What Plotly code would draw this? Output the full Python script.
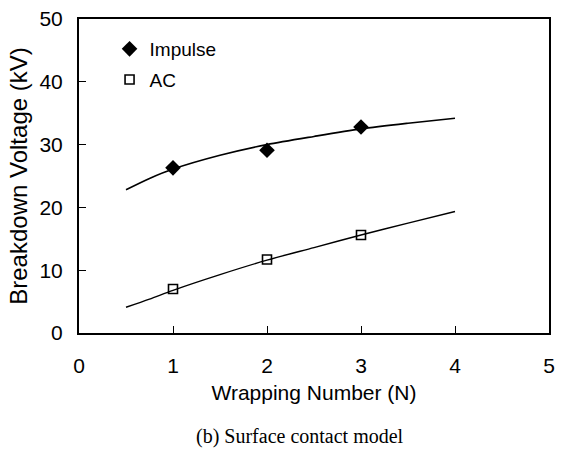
import plotly.graph_objects as go

# Measured data points
wrap_n = [1, 2, 3]
impulse_bdv = [26.3, 29.1, 32.8]
ac_bdv = [7.0, 11.7, 15.6]

# Fitted trend curves
fit_x = [0.5, 0.75, 1.0, 1.5, 2.0, 2.5, 3.0, 3.5, 4.0]
impulse_fit = [22.8, 24.6, 26.1, 28.3, 30.0, 31.3, 32.5, 33.4, 34.2]
ac_fit = [4.1, 5.4, 6.8, 9.3, 11.6, 13.6, 15.6, 17.5, 19.35]

x_ticks = [0, 1, 2, 3, 4, 5]
y_ticks = [0, 10, 20, 30, 40, 50]

font_sans = "Liberation Sans, Arial, sans-serif"

fig = go.Figure()
fig.add_trace(go.Scatter(x=fit_x, y=impulse_fit, mode="lines", line=dict(color="black", width=1.6, shape="spline", smoothing=0.8),
                         showlegend=False, hoverinfo="skip"))
fig.add_trace(go.Scatter(x=fit_x, y=ac_fit, mode="lines", line=dict(color="black", width=1.4, shape="spline", smoothing=0.8),
                         showlegend=False, hoverinfo="skip"))
fig.add_trace(go.Scatter(x=wrap_n, y=impulse_bdv, mode="markers", name="Impulse", legendgroup="a",
                         marker=dict(symbol="diamond", size=12, color="black")))
fig.add_trace(go.Scatter(x=wrap_n, y=ac_bdv, mode="markers", name="AC", legendgroup="b",
                         marker=dict(symbol="square-open", size=9, color="black", line=dict(width=1.6))))

fig.update_layout(
    width=562, height=450,
    margin=dict(l=79, r=7, t=17, b=117),
    paper_bgcolor="white", plot_bgcolor="white",
    font=dict(family=font_sans, size=19, color="black"),
    legend=dict(x=0.065, y=0.965, xanchor="left", yanchor="top", bgcolor="rgba(0,0,0,0)",
                font=dict(size=19), traceorder="grouped", tracegroupgap=3, itemwidth=30),
    xaxis=dict(range=[0, 5], tickvals=x_ticks, ticks="inside", ticklen=7, tickcolor="black",
               showline=True, linecolor="black", linewidth=2, mirror=True, showgrid=False, zeroline=False,
               title=dict(text="Wrapping Number (N)", font=dict(size=21), standoff=9),
               tickfont=dict(size=21), ticklabelstandoff=13),
    yaxis=dict(range=[0, 50], tickvals=y_ticks, ticks="inside", ticklen=7, tickcolor="black",
               showline=True, linecolor="black", linewidth=2, mirror=True, showgrid=False, zeroline=False,
               title=dict(text="Breakdown Voltage (kV)", font=dict(size=24), standoff=5),
               tickfont=dict(size=21), ticklabelstandoff=10),
    annotations=[dict(text="(b) Surface contact model", xref="paper", yref="paper", x=0.47, y=-0.33,
                      xanchor="center", yanchor="middle", showarrow=False,
                      font=dict(family="Liberation Serif, Times New Roman, serif", size=20))],
)

fig.write_html("out.html")
